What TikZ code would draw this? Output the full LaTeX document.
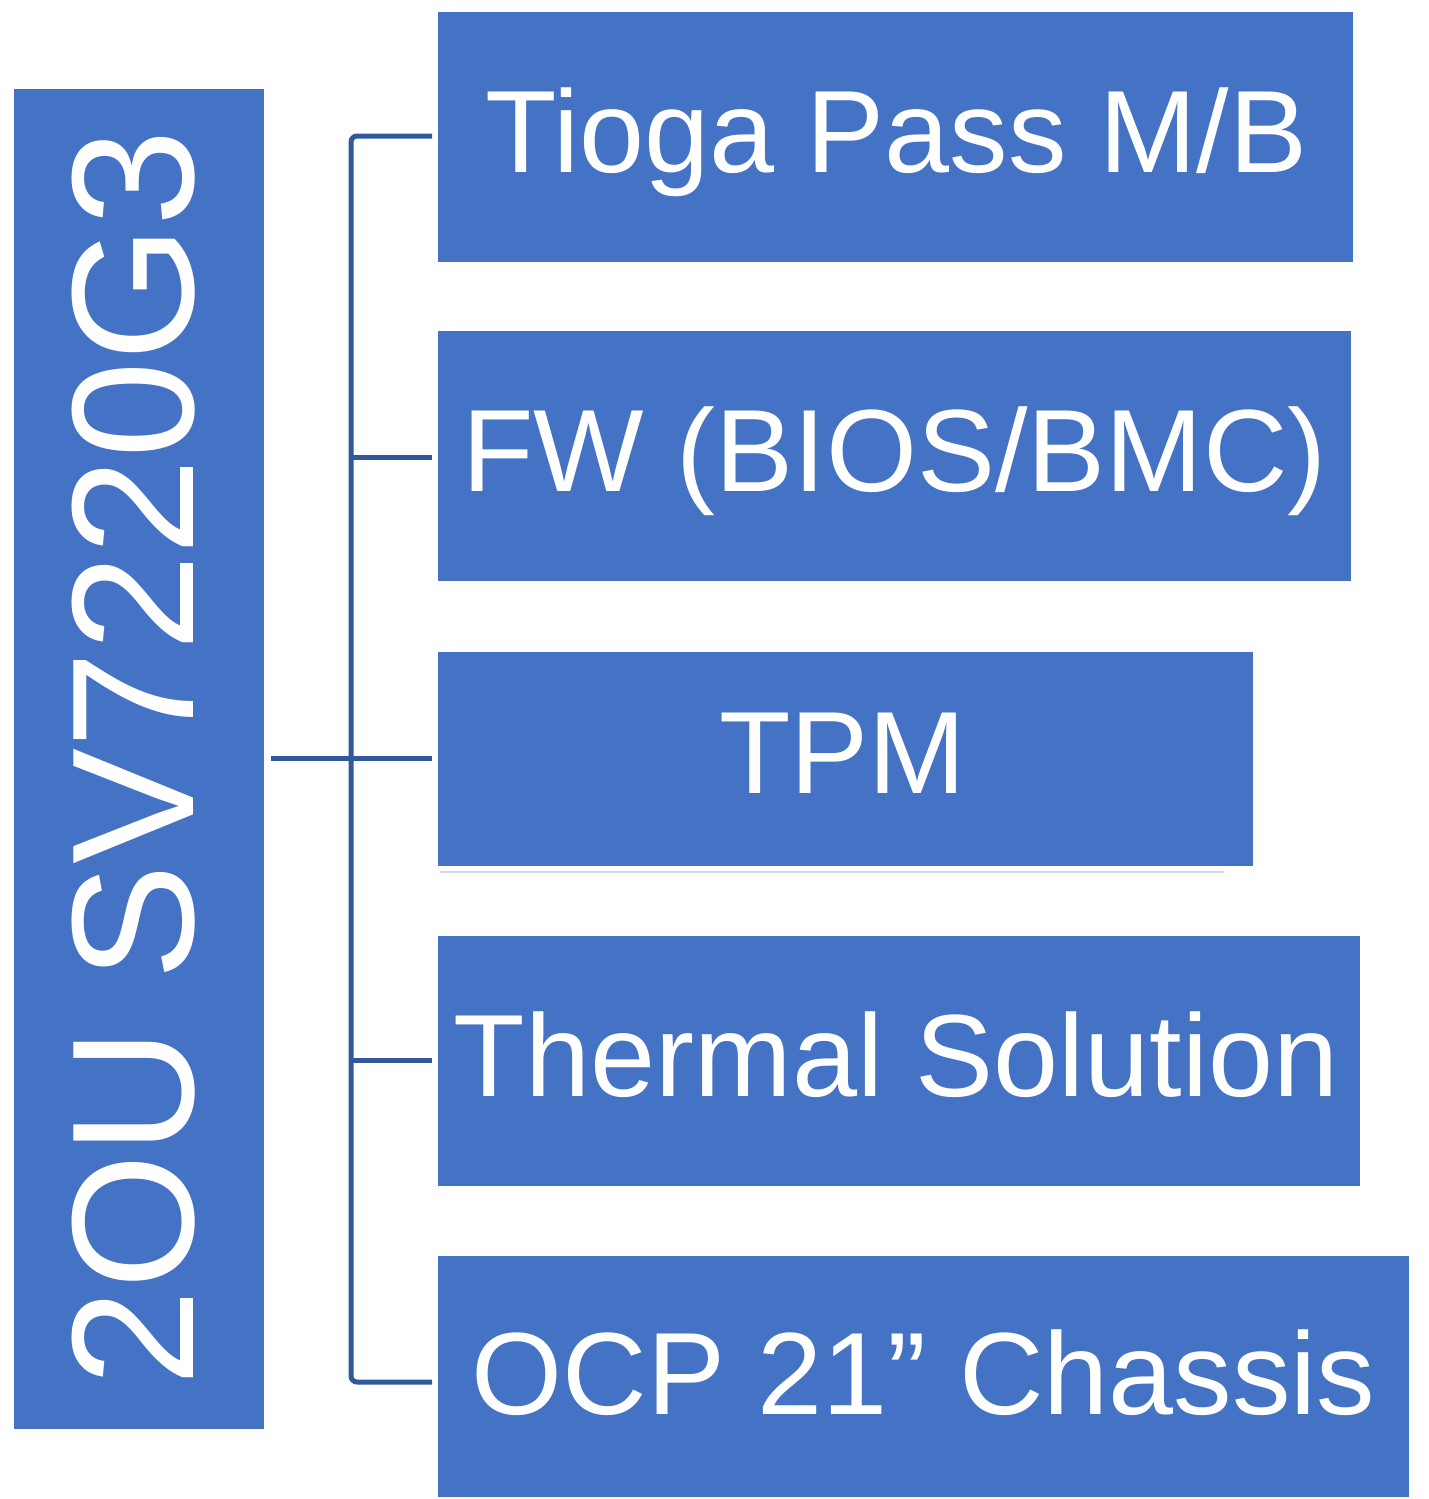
\documentclass[tikz,border=0pt]{standalone}
\usepackage{fontspec}
\setmainfont{Liberation Sans}
\usetikzlibrary{calc}
\definecolor{boxblue}{RGB}{68,114,196}
\definecolor{linkblue}{RGB}{50,88,156}
\definecolor{faintline}{RGB}{208,216,238}
\begin{document}
\begin{tikzpicture}[x=1pt,y=-1pt,
  box/.style={fill=boxblue, draw=none, anchor=north west, inner sep=0pt},
  lbl/.style={text=white, anchor=base, inner sep=0pt, font=\fontsize{117}{140}\selectfont},
  conn/.style={draw=linkblue, line width=5pt}]
\useasboundingbox (0,0) rectangle (1428,1499);
% boxes
\node[box, minimum width=250pt, minimum height=1340pt] (main) at (14,89) {};
\node[box, minimum width=915pt, minimum height=250pt] (b1) at (438,12) {};
\node[box, minimum width=913pt, minimum height=250pt] (b2) at (438,331) {};
\node[box, minimum width=815pt, minimum height=214pt] (b3) at (438,652) {};
\node[box, minimum width=922pt, minimum height=250pt] (b4) at (438,936) {};
\node[box, minimum width=971pt, minimum height=241pt] (b5) at (438,1256) {};
% faint line under TPM
\coordinate (fa) at (440,872);
\coordinate (fb) at (1224,872);
\draw[faintline, line width=1.5pt] (fa) -- (fb);
% labels
\node[text=white, anchor=base, inner sep=0pt, rotate=90, font=\fontsize{174}{200}\selectfont] (tm) at (193,758) {2OU SV7220G3};
\node[lbl] (t1) at ($(b1.center)+(1,35)$) {Tioga Pass M/B};
\node[lbl] (t2) at ($(b2.center)+(0,35)$) {FW (BIOS/BMC)};
\node[lbl] (t3) at ($(b3.center)+(-3,34)$) {TPM};
\node[lbl] (t4) at ($(b4.center)+(-3,35)$) {Thermal Solution};
\node[lbl] (t5) at ($(b5.center)+(0,38)$) {OCP 21” Chassis};
% connectors
\coordinate (j1) at (351,136);
\coordinate (j2) at (351,457);
\coordinate (j3) at (351,758);
\coordinate (j4) at (351,1060);
\coordinate (j5) at (351,1382);
\draw[conn, rounded corners=6pt] ($(b1.west |- j1)+(-6,0)$) -- (j1) -- (j5) -- ($(b5.west |- j5)+(-6,0)$);
\draw[conn] (j2) -- ($(b2.west |- j2)+(-6,0)$);
\draw[conn] ($(main.east |- j3)+(7,0)$) -- ($(b3.west |- j3)+(-6,0)$);
\draw[conn] (j4) -- ($(b4.west |- j4)+(-6,0)$);
\end{tikzpicture}
\end{document}
